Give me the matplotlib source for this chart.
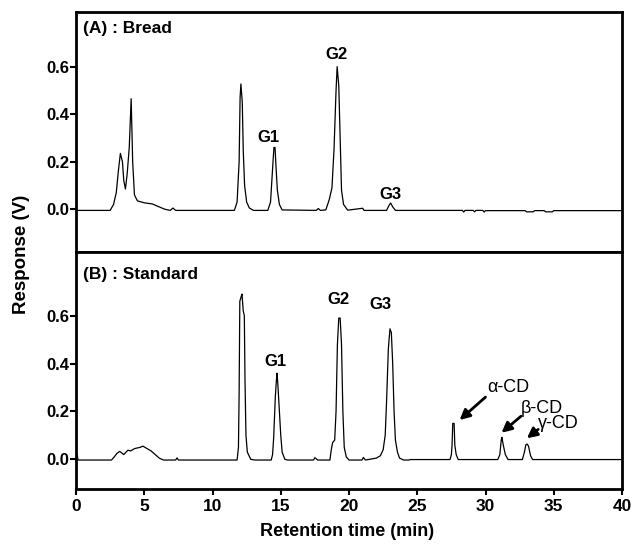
import matplotlib
matplotlib.use("Agg")
import matplotlib.pyplot as plt

plt.rcParams.update({
    "font.family": ["Liberation Sans", "DejaVu Sans"],
    "font.weight": "bold",
    "axes.linewidth": 2.0,
})

# Panel A (bread) trace: time (min), response (V)
bread_t = [0, 2.5, 2.75, 2.95, 3.1, 3.25, 3.4, 3.5, 3.62, 3.75, 3.9, 4.04, 4.15,
           4.28, 4.5, 5.0, 5.6, 6.0, 6.5, 6.9, 7.1, 7.3,
           11.6, 11.8, 11.95, 12.02, 12.08, 12.18, 12.25, 12.35, 12.5, 12.7, 13.0,
           14.05, 14.25, 14.4, 14.5, 14.58, 14.65, 14.75, 14.9, 15.1,
           17.6, 17.75, 17.9, 18.3, 18.55, 18.75, 18.9, 19.05, 19.13, 19.25, 19.35,
           19.45, 19.6, 19.9, 21.0, 21.1, 21.2,
           22.75, 22.95, 23.05, 23.2, 23.4,
           28.3, 28.4, 28.5, 29.1, 29.2, 29.3, 29.8, 29.9, 30.0,
           32.9, 33.0, 33.5, 33.6, 34.3, 34.4, 34.9, 35.0, 40]
bread_v = [-0.005, -0.005, 0.02, 0.07, 0.16, 0.235, 0.2, 0.12, 0.085, 0.15, 0.26, 0.465, 0.2,
           0.06, 0.035, 0.027, 0.022, 0.012, 0.0, -0.005, 0.005, -0.005,
           -0.005, 0.03, 0.2, 0.47, 0.527, 0.45, 0.25, 0.1, 0.03, 0.005, -0.005,
           -0.005, 0.03, 0.17, 0.26, 0.26, 0.18, 0.08, 0.02, -0.003,
           -0.005, 0.003, -0.005, -0.003, 0.04, 0.09, 0.25, 0.5, 0.60, 0.52, 0.3,
           0.08, 0.02, -0.004, 0.004, -0.005, -0.005,
           -0.005, 0.018, 0.026, 0.01, -0.005,
           -0.005, -0.012, -0.005, -0.005, -0.011, -0.005, -0.005, -0.012, -0.006,
           -0.006, -0.011, -0.011, -0.006, -0.006, -0.011, -0.011, -0.006, -0.006]

# Panel B (standard) trace
std_t = [0, 0.08, 0.15, 2.6, 2.8, 3.0, 3.2, 3.5, 3.8, 4.0, 4.3, 4.7, 4.9, 5.2, 5.5,
         5.8, 6.1, 6.4, 7.3, 7.4, 7.5,
         11.8, 11.9, 11.95, 12.0, 12.1, 12.16, 12.25, 12.33, 12.38, 12.45, 12.55, 12.8, 13.1,
         14.3, 14.4, 14.48, 14.6, 14.68, 14.73, 14.8, 14.9, 15.0, 15.1, 15.3, 15.5,
         17.4, 17.5, 17.7,
         18.6, 18.7, 18.8, 18.95, 19.05, 19.15, 19.25, 19.35, 19.45, 19.55, 19.65, 19.8, 20.0,
         20.95, 21.05, 21.2, 21.5, 22.0, 22.3,
         22.5, 22.65, 22.75, 22.88, 23.0, 23.1, 23.2, 23.3, 23.4, 23.55, 23.7, 24.0,
         24.4, 24.5,
         27.4, 27.5, 27.55, 27.6, 27.7, 27.75, 27.85, 28.0,
         30.9, 31.05, 31.15, 31.2, 31.3, 31.45, 31.65,
         32.7, 32.85, 32.95, 33.05, 33.15, 33.3, 33.45, 40]
std_v = [0.01, 0.02, -0.003, -0.003, 0.01, 0.025, 0.033, 0.02, 0.038, 0.035, 0.045, 0.05,
         0.055, 0.045, 0.035, 0.02, 0.005, -0.003, -0.003, 0.006, -0.003,
         -0.003, 0.05, 0.28, 0.66, 0.68, 0.69, 0.62, 0.6, 0.33, 0.1, 0.03, 0.0, -0.003,
         -0.003, 0.02, 0.09, 0.26, 0.33, 0.36, 0.3, 0.2, 0.1, 0.03, 0.0, -0.003,
         -0.003, 0.007, -0.003,
         -0.003, 0.04, 0.07, 0.08, 0.2, 0.48, 0.59, 0.59, 0.48, 0.2, 0.05, 0.01, -0.003,
         -0.003, 0.008, -0.003, 0.0, 0.005, 0.015,
         0.04, 0.1, 0.24, 0.46, 0.545, 0.53, 0.4, 0.2, 0.08, 0.03, 0.005, -0.003,
         -0.003, -0.001,
         -0.001, 0.02, 0.06, 0.15, 0.15, 0.06, 0.02, -0.001,
         -0.001, 0.02, 0.08, 0.092, 0.06, 0.02, -0.001,
         -0.001, 0.03, 0.06, 0.064, 0.055, 0.015, -0.001, -0.001]

# peak labels: (text, time, response)
bread_labels = [("G1", 14.1, 0.30), ("G2", 19.08, 0.653), ("G3", 23.0, 0.063)]
std_labels = [("G1", 14.6, 0.408), ("G2", 19.25, 0.666), ("G3", 22.3, 0.645)]
# cyclodextrin labels: (text, text centre, arrow tail, arrow tip)
cd_labels = [("\u03b1-CD", (31.7, 0.298), (30.0, 0.26), (28.1, 0.164)),
             ("\u03b2-CD", (34.15, 0.213), (32.6, 0.18), (31.17, 0.111)),
             ("\u03b3-CD", (35.35, 0.15), (33.86, 0.125), (33.03, 0.088))]

yticks = [0.0, 0.2, 0.4, 0.6]

fig = plt.figure(figsize=(6.34, 5.44), dpi=100)
axA = fig.add_axes([0.1199, 0.5368, 0.8612, 0.4412])
axB = fig.add_axes([0.1199, 0.1011, 0.8612, 0.4357])

axA.plot(bread_t, bread_v, color="black", lw=0.9)
axB.plot(std_t, std_v, color="black", lw=0.9)

axA.set_ylim(-0.18, 0.83)
axB.set_ylim(-0.124, 0.866)
for ax in (axA, axB):
    ax.set_xlim(0, 40)
    ax.set_yticks(yticks)
    ax.set_yticklabels(["%.1f" % v for v in yticks])
    ax.tick_params(axis="y", direction="out", length=4, width=1.5, labelsize=12, pad=1)
    for s in ax.spines.values():
        s.set_linewidth(2.0)

axA.tick_params(axis="x", bottom=False, labelbottom=False)
axB.set_xticks(range(0, 41, 5))
axB.tick_params(axis="x", direction="out", length=4, width=1.5, labelsize=12.5, pad=3)

axA.text(0.012, 0.93, "(A) : Bread", transform=axA.transAxes, fontsize=12.5,
         ha="left", va="center")
axB.text(0.012, 0.905, "(B) : Standard", transform=axB.transAxes, fontsize=12.5,
         ha="left", va="center")

for txt, t, v in bread_labels:
    axA.text(t, v, txt, fontsize=12, ha="center", va="center")
for txt, t, v in std_labels:
    axB.text(t, v, txt, fontsize=12, ha="center", va="center")
for txt, pos, tail, tip in cd_labels:
    axB.text(pos[0], pos[1], txt, fontsize=13, fontweight="normal",
             ha="center", va="center")
    axB.annotate("", xy=tip, xytext=tail,
                 arrowprops=dict(arrowstyle="-|>,head_length=0.6,head_width=0.3",
                                 color="black", lw=2.0, shrinkA=0, shrinkB=0))

fig.text(0.034, 0.533, "Response (V)", rotation=90, fontsize=13.5, ha="center", va="center")
fig.text(0.548, 0.0226, "Retention time (min)", fontsize=13, ha="center", va="center")

fig.savefig("out.png", dpi=100)
